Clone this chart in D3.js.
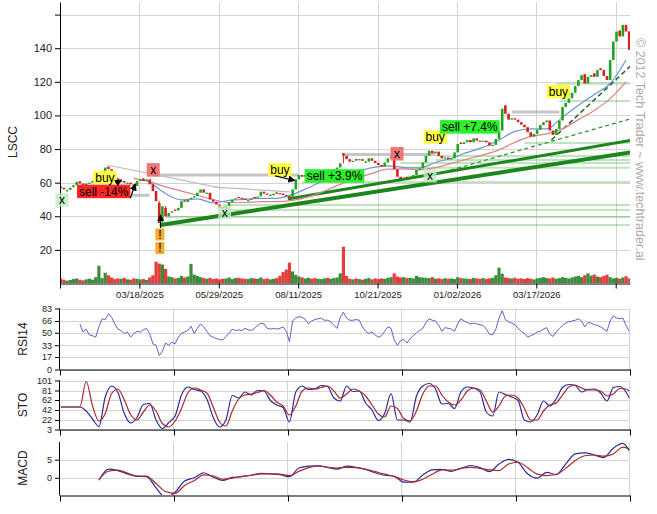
<!DOCTYPE html>
<html>
<head>
<meta charset="utf-8">
<script src="https://cdn.jsdelivr.net/npm/d3@7"></script>
<style>
  body { margin: 0; background: #fff; }
  svg { font-family: "Liberation Sans", Arial, sans-serif; }
</style>
</head>
<body>
<svg id="chart" width="657" height="514"></svg>
<script>
// ---- values (one candle = 2 trading days) ----
var tickLabels = ["", "03/18/2025", "05/29/2025", "08/11/2025", "10/21/2025", "01/02/2026", "03/17/2026", ""];
var priceTicks = [20, 40, 60, 80, 100, 120, 140, 160];

var opens = [57.5,57,55,55.8,57.5,58.5,60.8,59.5,58.2,59.8,
  60,61.5,62.5,64,66,69.5,68,66,62.5,60.5,
  61,59.5,60,59,58,61,62.5,61,62,59,
  55,48,37,45,40,42.5,44,43.5,45,49.5,
  48.5,50.5,51.5,52,54,56,53.5,54,50,48.5,
  47,45.5,44.5,46,48.5,50.2,51.5,51,50.5,49.2,
  49.8,51.5,51,52,54.6,53.5,52.2,52.5,54.2,53.7,
  53.5,52.7,52,51,56,62,64.6,63.5,64.5,65.2,
  64.5,63.8,64.5,65,67,66.5,67,68,69,77.5,
  76,74,72.5,74,73.5,74,72,72.5,74.5,73,
  71.7,70.5,69.5,72,74.5,75,68,63.5,62,63.5,
  62.6,63.6,64.5,67.6,68.5,72,76,79,77.5,78.5,
  76,74.5,75,74,74.5,78,83.8,83,84,85.4,
  84,86.4,85,84.4,85,84,82,82.5,86,91,
  106,101,97.5,98.3,97.5,96,94.5,93,90,87.4,
  89,91.5,94.3,96,97,91,88.4,92,97,105,
  107.5,110.2,113.5,117.5,121,124.5,119,123,125,123,
  128,127,123.5,121.1,133,144,150.5,147,153.9,150];

var closes = [57,56,55.5,57,58.5,60.5,59.5,58.5,59.5,60,
  61,62,64,66,69,68,66,63,61.5,61,
  60,60,59,58,61,62,61,62,59,55,
  49,36,46,40,42,43,43.7,45,49,48.7,
  50,51,52,54,56,54,54,50,48.7,47,
  45,44.8,46,48.5,50,50.7,51,50.5,49.7,49.7,
  50.5,51,51.7,54.6,53.5,53,52.7,53.5,53.7,53,
  52.7,52,50.7,56,62,64.6,63.5,64.6,65,64.5,
  64,64.5,65,66,66.5,67,68,69,71.5,76,
  74,72.5,73,73.5,74,73,72.5,74.5,73,71.7,
  70.5,69.5,72,74.5,75.5,68,63.5,62,63,62.6,
  63.6,64.5,67.6,68.5,72,76,79,77.5,78.5,76,
  74.5,75,74,74.5,78,83,83,84,85.4,84,
  86.4,85,84.4,85,84,82,82.5,86,91,104,
  101,97.5,98.3,97.5,96,94.5,93,90,87.4,89,
  91.5,94.3,96,97,91,88.4,92,97,105,107.5,
  110.2,113.5,117.5,121,124,119,123,124,123,127,
  127,123.5,121.1,133,144,149.9,147,153.9,149.9,139];

// volume in millions
var volumes = [1.5,1.2,0.9,1.1,1.4,1.6,1.2,1.0,1.3,1.5,
  1.2,2.0,5.6,1.7,3.4,2.6,1.9,1.4,1.6,1.5,
  1.8,1.3,1.2,1.6,1.5,1.3,1.4,1.1,1.9,2.6,
  6.9,6.3,6.0,4.6,2.2,2.0,1.6,1.8,2.4,1.9,
  2.2,6.2,2.8,2.4,2.0,1.7,1.5,1.8,1.4,1.6,
  1.3,1.5,1.6,1.9,1.4,1.7,1.8,1.6,1.5,1.4,
  1.7,1.6,1.5,1.9,1.4,1.6,1.3,1.5,1.7,2.4,
  3.6,4.4,6.6,3.8,2.7,2.2,1.9,1.6,1.8,1.5,
  1.7,1.5,1.4,1.6,1.8,1.5,1.7,1.9,3.2,11.6,
  2.4,1.5,1.3,1.6,1.4,1.2,1.5,1.7,1.3,1.6,
  1.4,1.6,1.5,1.8,2.0,3.2,2.2,1.9,2.0,1.7,
  1.8,1.6,2.4,2.0,1.9,1.8,1.7,2.0,1.5,1.6,
  1.4,1.7,1.5,1.6,1.4,2.0,1.7,1.6,1.5,1.4,
  1.8,1.6,1.5,1.7,1.4,1.6,1.8,2.6,5.0,3.1,
  1.9,1.7,1.6,1.8,1.5,1.6,1.4,1.7,1.5,1.3,
  1.6,1.8,2.0,1.7,1.6,1.9,1.5,1.7,2.0,1.8,
  1.6,1.9,2.2,2.4,2.0,2.6,3.2,2.5,2.8,2.2,
  2.0,2.4,2.8,2.0,1.6,1.8,1.5,1.9,2.3,1.6];

// moving averages, one value every 5 candles
var maFastStart = 28;
var maFast = [60.5,53.5,49.8,50.3,48,49.5,50,50.7,50.7,53,57,61.5,64.5,66.5,69,70,69,68.8,72,74.5,78,81,85.4,90.5,92,92,99,106,112.5,119,133];
var maSlowStart = 23;
var maSlow = [62.5,60.5,57.5,55,52.5,50,48.2,48.2,48.7,48.7,49.5,51.5,55,59,62.6,65.5,68,68.2,67.6,69,71.5,74,76.5,79.5,84,87.5,89,92,97.5,103,110,120];

var rsi = [null,null,null,null,null,null,62,51,55,47,
  46,44,58,69,68,76,71,62,55,53,
  49,51,44,49,52,51,54,56,49,35,
  33,19,25,36,33,37,35,44,49,51,
  53,59,49,56,62,58,52,46,44,42,
  41,40,45,49,55,53,54,53,56,54,
  53,56,60,63,62,56,55,56,55,56,
  58,52,38,66,70,72,71,68,62,66,
  68,69,70,67,67,65,60,56,71,78,
  70,67,67,68,67,58,52,49,51,47,
  44,46,52,58,56,40,33,39,41,36,
  42,46,50,53,56,64,69,67,66,60,
  52,57,56,55,52,62,69,66,64,62,
  63,62,61,60,55,48,47,55,70,80,
  68,65,63,61,56,52,49,44,46,48,
  51,52,55,57,48,45,51,56,60,63,
  65,66,67,69,66,58,64,63,61,60,
  58,55,52,66,73,70,69,70,60,52];
var rsiTicks = [0, 17, 33, 50, 66, 83];

// stochastic, one value every 2 candles
var stoK = [48,48,48,48,40,24,9,68,90,77,
  35,16,27,53,55,22,5,17,30,72,
  88,83,80,64,27,8,22,71,66,78,
  72,81,80,61,52,47,18,78,90,83,
  84,91,89,66,60,90,79,80,56,42,
  21,35,75,22,22,18,70,90,95,84,
  54,55,45,78,88,86,78,38,30,78,
  73,68,61,22,18,32,60,50,64,87,
  93,91,78,83,84,76,60,87,89,78,
  66];
var stoD = [48,48,48,48,99,50,20,35,75,84,
  62,33,22,38,52,40,15,8,20,45,
  76,86,82,76,48,18,10,40,64,72,
  74,77,81,72,58,50,32,50,80,86,
  84,87,90,80,66,74,84,80,70,52,
  34,28,50,45,25,20,40,74,90,90,
  72,58,52,62,80,86,82,60,38,50,
  70,72,66,45,22,22,40,52,56,72,
  88,92,86,82,82,80,70,74,85,84,
  80];
var stoTicks = [3, 22, 42, 62, 81, 101];

// MACD, one value every 3 candles
var macdLine = [null,null,null,null,-0.7,2.4,2.0,1.1,0.4,0.3,
  -2.8,-5.5,-4.0,-0.9,0.0,1.4,0.2,-0.7,0.1,0.3,
  0.7,1.1,1.1,0.9,0.3,2.7,3.2,3.3,2.9,2.4,
  3.2,2.9,2.3,1.4,0.7,0.4,-1.2,-1.2,0.8,2.2,
  2.3,1.8,2.6,3.4,2.8,1.7,3.8,5.1,4.3,1.1,
  -0.1,1.5,0.9,3.8,6.6,6.9,6.3,5.6,8.2,9.5,
  7.5];
var macdSignal = [null,null,null,null,-0.5,1.8,2.1,1.3,0.5,0.5,
  -1.6,-3.8,-4.3,-2.1,-0.8,0.8,0.5,-0.4,-0.1,0.4,
  0.7,1.2,1.1,1.0,0.6,1.8,2.8,3.3,2.9,2.7,
  2.9,2.8,2.4,1.7,1.0,0.4,-0.6,-1.1,-0.4,1.0,
  2.2,2.1,2.6,2.9,2.6,2.2,2.0,3.8,4.3,2.8,
  1.0,0.6,0.9,2.6,4.8,6.1,6.3,6.0,6.6,8.5,
  8.0];
var macdTicks = [0, 5];

// trend lines: [from candle, from price, to candle, to price, kind]
var trendLines = [
  [31.4, 34.8, 180.4, 78.3, "major"],
  [71.5, 50.3, 180.4, 85.4, "minor"],
  [116.3, 64, 180.4, 98.5, "dashed"],
  [154.5, 85.4, 180.4, 131.2, "steep"],
  [14.6, 70.5, 50.6, 56.8, "old"],
  [48.4, 57.4, 72.1, 54.5, "old"]
];
// support levels: [from candle, price]
var supportLevels = [[31, 34.8], [33, 39.6], [51, 43.7], [51, 46.7], [76, 60.4],
  [107, 68.8], [107, 71.7], [118, 73.5], [118, 75.9], [146, 83.6], [157, 108.6], [156, 118.8]];
// resistance levels: [from candle, to candle, price]
var resistLevels = [[29, 75, 64.6], [22, 28, 52.5], [89, 118, 76.8], [142, 157, 102]];

var signals = [
  { c: 0.4, p: 49.7, text: "x", kind: "xgood" },
  { c: 13.5, p: 54.8, text: "sell -14%", kind: "loss" },
  { c: 13.9, p: 63.1, text: "buy", kind: "buy" },
  { c: 29.1, p: 67.6, text: "x", kind: "xbad" },
  { c: 31.2, p: 29.2, text: "!", kind: "warn" },
  { c: 31.2, p: 21.1, text: "!", kind: "warn" },
  { c: 51.6, p: 42.3, text: "x", kind: "xgood" },
  { c: 69, p: 67.7, text: "buy", kind: "buy" },
  { c: 86.2, p: 64, text: "sell +3.9%", kind: "gain" },
  { c: 105.9, p: 77.2, text: "x", kind: "xbad" },
  { c: 116.3, p: 64.1, text: "x", kind: "xgood" },
  { c: 117.9, p: 87.2, text: "buy", kind: "buy" },
  { c: 128.8, p: 93.2, text: "sell +7.4%", kind: "gain" },
  { c: 156.7, p: 114.2, text: "buy", kind: "buy" }
];
// arrows from a label to its candle: [from candle, from price, to candle, to price]
var arrows = [[21.9, 50.9, 23.5, 59.2], [17.5, 59.8, 19.1, 61.6], [31.4, 33, 31.4, 40.8], [67.5, 64, 73.7, 61.3]];

// ---- layout ----
var svg = d3.select("#chart");
var left = 60, right = 630;

var x = d3.scaleLinear().domain([0, 179.5]).range([left, right]);
function cx(c) { return x(c + 0.25); }

var yPrice = d3.scaleLinear().domain([0, 167.5]).range([283.5, 2]);
var yVol = d3.scaleLinear().domain([0, 12]).range([283.5, 245.5]);
var yRsi = d3.scaleLinear().domain([0, 83]).range([369.5, 308.5]);
var ySto = d3.scaleLinear().domain([3, 101]).range([429.5, 380.5]);
var yMacd = d3.scaleLinear().domain([-4.9, 9.9]).range([495.5, 442]);

var gridColor = "#d4d4d4";
var priceTickIdx = d3.range(0, 176, 25);
var lowerTickIdx = d3.range(6).map(function (k) { return k * 179.5 / 5; });

function crisp(v) { return Math.round(v) + 0.5; }
function isUp(i) { return closes[i] >= opens[i]; }

// clip paths
var defs = svg.append("defs");
function addClip(id, top, bottom) {
  defs.append("clipPath").attr("id", id).append("rect")
    .attr("x", left).attr("y", top).attr("width", right - left).attr("height", bottom - top);
}
addClip("clipPrice", 2, 283);
addClip("clipRsi", 300, 369);
addClip("clipSto", 375, 429);
addClip("clipMacd", 442, 495);

defs.append("marker").attr("id", "arrow").attr("viewBox", "0 0 10 10")
  .attr("refX", 9).attr("refY", 5).attr("markerWidth", 6).attr("markerHeight", 6)
  .attr("orient", "auto")
  .append("path").attr("d", "M0,0 L10,5 L0,10 z").attr("fill", "#000");

// ---- price panel ----
var pricePanel = svg.append("g");

// grid
pricePanel.selectAll(".hgrid").data(priceTicks).enter().append("line")
  .attr("x1", left).attr("x2", right)
  .attr("y1", function (d) { return crisp(yPrice(d)); })
  .attr("y2", function (d) { return crisp(yPrice(d)); })
  .attr("stroke", gridColor);
pricePanel.selectAll(".vgrid").data(priceTickIdx.slice(1)).enter().append("line")
  .attr("x1", function (d) { return crisp(x(d)); })
  .attr("x2", function (d) { return crisp(x(d)); })
  .attr("y1", 2).attr("y2", 283)
  .attr("stroke", gridColor);

var plot = pricePanel.append("g").attr("clip-path", "url(#clipPrice)");

// support / resistance levels
plot.selectAll(".support").data(supportLevels).enter().append("line")
  .attr("x1", function (d) { return cx(d[0]); })
  .attr("x2", right)
  .attr("y1", function (d) { return yPrice(d[1]); })
  .attr("y2", function (d) { return yPrice(d[1]); })
  .attr("stroke", "#3aa83a").attr("stroke-opacity", 0.32).attr("stroke-width", 2);
plot.selectAll(".resist").data(resistLevels).enter().append("line")
  .attr("x1", function (d) { return cx(d[0]); })
  .attr("x2", function (d) { return cx(d[1]); })
  .attr("y1", function (d) { return yPrice(d[2]); })
  .attr("y2", function (d) { return yPrice(d[2]); })
  .attr("stroke", "#a8a8a8").attr("stroke-opacity", 0.65).attr("stroke-width", 3);

// volume
plot.selectAll(".vol").data(volumes).enter().append("rect")
  .attr("x", function (d, i) { return cx(i) - 1.6; })
  .attr("width", 3.2)
  .attr("y", function (d) { return yVol(d); })
  .attr("height", function (d) { return yVol(0) - yVol(d); })
  .attr("fill", function (d, i) { return isUp(i) ? "#1f7d1f" : "#e02222"; })
  .attr("fill-opacity", 0.88);

// trend lines
var trendStyle = {
  major: { color: "#1c861c", width: 4, dash: null },
  minor: { color: "#1c861c", width: 3, dash: null },
  dashed: { color: "#2f8f2f", width: 1.2, dash: "4,3" },
  steep: { color: "#1a6a1a", width: 1.5, dash: "5,3" },
  old: { color: "#bdbdbd", width: 1.2, dash: null }
};
plot.selectAll(".trend").data(trendLines).enter().append("line")
  .attr("x1", function (d) { return cx(d[0]); })
  .attr("y1", function (d) { return yPrice(d[1]); })
  .attr("x2", function (d) { return cx(d[2]); })
  .attr("y2", function (d) { return yPrice(d[3]); })
  .attr("stroke", function (d) { return trendStyle[d[4]].color; })
  .attr("stroke-width", function (d) { return trendStyle[d[4]].width; })
  .attr("stroke-dasharray", function (d) { return trendStyle[d[4]].dash; });

// moving averages
function maLine(start) {
  return d3.line()
    .x(function (d, i) { return cx(start + i * 5); })
    .y(function (d) { return yPrice(d); })
    .curve(d3.curveMonotoneX);
}
plot.append("path").datum(maSlow).attr("d", maLine(maSlowStart))
  .attr("fill", "none").attr("stroke", "#d98585").attr("stroke-width", 1.2);
plot.append("path").datum(maFast).attr("d", maLine(maFastStart))
  .attr("fill", "none").attr("stroke", "#6f93d6").attr("stroke-width", 1.2);

// candles: thin line from previous close, then the body
plot.selectAll(".wick").data(closes).enter().append("line")
  .attr("x1", function (d, i) { return cx(i); })
  .attr("x2", function (d, i) { return cx(i); })
  .attr("y1", function (d, i) { return yPrice(i > 0 ? closes[i - 1] : opens[0]); })
  .attr("y2", function (d, i) { return yPrice(opens[i]); })
  .attr("stroke", function (d, i) { return isUp(i) ? "#22a322" : "#d42020"; })
  .attr("stroke-width", 1);
plot.selectAll(".candle").data(closes).enter().append("rect")
  .attr("x", function (d, i) { return cx(i) - 1.3; })
  .attr("width", 2.6)
  .attr("y", function (d, i) { return yPrice(Math.max(opens[i], d)); })
  .attr("height", function (d, i) {
    return Math.max(1.2, Math.abs(yPrice(opens[i]) - yPrice(d)));
  })
  .attr("fill", function (d, i) { return isUp(i) ? "#22a322" : "#d42020"; });

// signal labels
var signalFill = {
  buy: "#ffff3a", loss: "#ff1a1a", gain: "#22ee22",
  xgood: "#bdebbd", xbad: "#ee7070", warn: "#f6a623"
};
var labels = svg.append("g");
signals.forEach(function (s) {
  var g = labels.append("g")
    .attr("transform", "translate(" + cx(s.c) + "," + yPrice(s.p) + ")");
  var rect = g.append("rect");
  var t = g.append("text").text(s.text)
    .attr("text-anchor", "middle").attr("dy", "0.36em")
    .attr("font-size", 12).attr("fill", "#000");
  var w = Math.max(t.node().getComputedTextLength() + 4, s.text === "!" ? 9 : 13);
  var h = s.text === "!" ? 12 : 13.5;
  rect.attr("x", -w / 2).attr("y", -h / 2).attr("width", w).attr("height", h)
    .attr("fill", signalFill[s.kind])
    .attr("fill-opacity", s.kind === "xgood" ? 0.8 : 0.95);
});
labels.selectAll(".arrow").data(arrows).enter().append("line")
  .attr("x1", function (d) { return cx(d[0]); })
  .attr("y1", function (d) { return yPrice(d[1]); })
  .attr("x2", function (d) { return cx(d[2]); })
  .attr("y2", function (d) { return yPrice(d[3]); })
  .attr("stroke", "#000").attr("stroke-width", 1.2)
  .attr("marker-end", "url(#arrow)");

// price axes
pricePanel.append("g")
  .attr("transform", "translate(" + left + ",0)")
  .call(d3.axisLeft(yPrice).tickValues(priceTicks).tickSize(5).tickSizeOuter(0)
    .tickFormat(function (d) { return d === 160 ? "" : d; }))
  .call(styleAxis, 11);
pricePanel.append("g")
  .attr("transform", "translate(0,283.5)")
  .call(d3.axisBottom(x).tickValues(priceTickIdx).tickSize(5).tickSizeOuter(0)
    .tickFormat(function (d, i) { return tickLabels[i]; }))
  .call(styleAxis, 9.5);

function styleAxis(g, size) {
  g.select(".domain").attr("stroke", "#000");
  g.selectAll(".tick line").attr("stroke", "#000");
  g.selectAll(".tick text").attr("font-size", size).attr("fill", "#222")
    .attr("font-family", "'Liberation Sans', Arial, sans-serif");
}

// ---- lower indicator panels ----
function lowerPanel(scale, ticks, top, bottom, clipId) {
  var g = svg.append("g");
  g.selectAll(".hgrid").data(ticks).enter().append("line")
    .attr("x1", left).attr("x2", right)
    .attr("y1", function (d) { return crisp(scale(d)); })
    .attr("y2", function (d) { return crisp(scale(d)); })
    .attr("stroke", gridColor);
  g.selectAll(".vgrid").data(lowerTickIdx.slice(1)).enter().append("line")
    .attr("x1", function (d) { return crisp(x(d)) - 1; })
    .attr("x2", function (d) { return crisp(x(d)) - 1; })
    .attr("y1", top).attr("y2", bottom)
    .attr("stroke", gridColor);
  g.append("g")
    .attr("transform", "translate(" + left + ",0)")
    .call(d3.axisLeft(scale).tickValues(ticks).tickSize(5).tickSizeOuter(0))
    .call(styleAxis, 9);
  g.select(".domain").attr("d", "M-0.5," + top + "V" + bottom);
  g.append("g")
    .attr("transform", "translate(0," + bottom + ")")
    .call(d3.axisBottom(x).tickValues(lowerTickIdx).tickSize(6).tickSizeOuter(0).tickFormat(""))
    .call(styleAxis, 9);
  return g.append("g").attr("clip-path", "url(#" + clipId + ")");
}

function seriesLine(scale, step) {
  return d3.line()
    .defined(function (d) { return d !== null; })
    .x(function (d, i) { return cx(Math.min(i * step, closes.length - 1)); })
    .y(function (d) { return scale(d); });
}

var rsiG = lowerPanel(yRsi, rsiTicks, 308.5, 369.5, "clipRsi");
rsiG.append("path").datum(rsi).attr("d", seriesLine(yRsi, 1))
  .attr("fill", "none").attr("stroke", "#6a5acd").attr("stroke-width", 1);

var stoG = lowerPanel(ySto, stoTicks, 380.5, 429.5, "clipSto");
stoG.append("path").datum(stoK).attr("d", seriesLine(ySto, 2).curve(d3.curveMonotoneX))
  .attr("fill", "none").attr("stroke", "#2b2b9c").attr("stroke-width", 1.2);
stoG.append("path").datum(stoD).attr("d", seriesLine(ySto, 2).curve(d3.curveMonotoneX))
  .attr("fill", "none").attr("stroke", "#a82a2a").attr("stroke-width", 1.2);

var macdG = lowerPanel(yMacd, macdTicks, 442, 495.5, "clipMacd");
macdG.append("path").datum(macdLine).attr("d", seriesLine(yMacd, 3).curve(d3.curveMonotoneX))
  .attr("fill", "none").attr("stroke", "#2b2b9c").attr("stroke-width", 1.2);
macdG.append("path").datum(macdSignal).attr("d", seriesLine(yMacd, 3).curve(d3.curveMonotoneX))
  .attr("fill", "none").attr("stroke", "#a82a2a").attr("stroke-width", 1.2);

// ---- titles ----
var titles = [["LSCC", 17, 142], ["RSI14", 27, 339], ["STO", 27, 405], ["MACD", 27, 468]];
svg.selectAll(".title").data(titles).enter().append("text")
  .attr("transform", function (d) { return "translate(" + d[1] + "," + d[2] + ") rotate(-90)"; })
  .attr("text-anchor", "middle")
  .attr("font-size", 12).attr("fill", "#222")
  .text(function (d) { return d[0]; });

// watermark
svg.append("text")
  .attr("transform", "translate(636,38) rotate(90)")
  .attr("font-size", 12.5).attr("fill", "#ababab")
  .text("\u00a9 2012 Tech Trader ~ www.techtrader.ai");
</script>
</body>
</html>
